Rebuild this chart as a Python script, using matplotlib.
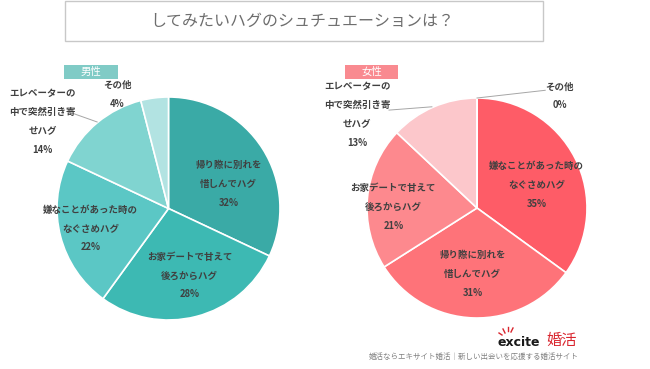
import matplotlib
matplotlib.use("Agg")
import matplotlib.pyplot as plt
from matplotlib.patches import Rectangle

plt.rcParams['font.family'] = ['Noto Sans CJK JP', 'DejaVu Sans']

W, H = 650, 369

title = "してみたいハグのシュチュエーションは？"

male_labels = ["帰り際に別れを\n惜しんでハグ", "お家デートで甘えて\n後ろからハグ",
               "嫌なことがあった時の\nなぐさめハグ", "エレベーターの\n中で突然引き寄\nせハグ", "その他"]
male_values = [32, 28, 22, 14, 4]
male_colors = ["#3aaaa6", "#3db9b3", "#5bc7c5", "#80d4d0", "#b2e3e2"]

female_labels = ["嫌なことがあった時の\nなぐさめハグ", "帰り際に別れを\n惜しんでハグ",
                 "お家デートで甘えて\n後ろからハグ", "エレベーターの\n中で突然引き寄\nせハグ", "その他"]
female_values = [35, 31, 21, 13, 0]
female_colors = ["#fe5c67", "#fe7379", "#fd898e", "#fcc7cb", "#fde0e2"]

male_label_pos = [(0.54, 0.22), (0.19, -0.60), (-0.70, -0.18), (-1.13, 0.78), (-0.46, 1.02)]
female_label_pos = [(0.54, 0.21), (-0.04, -0.60), (-0.76, 0.01), (-1.09, 0.85), (0.75, 1.02)]

fig = plt.figure(figsize=(W / 100, H / 100), dpi=100)
fig.patch.set_facecolor("white")


def px_axes(cx, cy, r):
    ax = fig.add_axes([(cx - r) / W, (H - cy - r) / H, 2 * r / W, 2 * r / H])
    ax.set_xlim(-1, 1)
    ax.set_ylim(-1, 1)
    ax.set_aspect("equal")
    ax.axis("off")
    return ax


def draw_pie(ax, values, colors, labels, pos, leaders):
    ax.pie(values, colors=colors, startangle=90, counterclock=False, radius=1,
           wedgeprops=dict(edgecolor="white", linewidth=1.2))
    ax.set_xlim(-1, 1)
    ax.set_ylim(-1, 1)
    for lab, v, (x, y) in zip(labels, values, pos):
        ax.text(x, y, f"{lab}\n{v}%", ha="center", va="center", fontsize=6.8,
                fontweight="bold", color="#404040", linespacing=2.1, clip_on=False)
    for (x0, y0, x1, y1) in leaders:
        ax.plot([x0, x1], [y0, y1], color="#a6a6a6", lw=0.7, clip_on=False)


axL = px_axes(168.5, 208.5, 111.5)
draw_pie(axL, male_values, male_colors, male_labels, male_label_pos,
         [(-0.865, 0.856, -0.64, 0.776)])

axR = px_axes(477, 208, 110)
draw_pie(axR, female_values, female_colors, female_labels, female_label_pos,
         [(-0.80, 0.89, -0.41, 0.92), (0.0, 1.0, 0.62, 1.07)])

# overlay axes in pixel coords
ov = fig.add_axes([0, 0, 1, 1], zorder=-1)
ov.set_xlim(0, W)
ov.set_ylim(H, 0)
ov.axis("off")

ov.add_patch(Rectangle((65, 1), 478, 40, facecolor="white", edgecolor="#c8c8c8", lw=1.0))
ov.text(302, 21, title, ha="center", va="center", fontsize=11.5, color="#6e6e6e")

ov.add_patch(Rectangle((64, 65), 54, 14, facecolor="#80cbc6", edgecolor="none"))
ov.text(91, 72, "男性", ha="center", va="center", fontsize=7.5, color="white")
ov.add_patch(Rectangle((345, 65), 53, 14, facecolor="#f98a90", edgecolor="none"))
ov.text(371.5, 72, "女性", ha="center", va="center", fontsize=7.5, color="white")

# logo
fig.text(519 / W, 1 - 342 / H, "excite", ha="center", va="center", fontsize=9,
         fontweight="bold", color="#1a1a1a", family=["DejaVu Sans"])
fig.text(562 / W, 1 - 340 / H, "婚活", ha="center", va="center", fontsize=11,
         color="#d9252e")
for (x0, y0, x1, y1) in [(505, 333, 503, 329), (508, 331, 508, 327), (511, 332, 513, 328), (502, 335, 499, 333)]:
    ov.plot([x0, x1], [y0, y1], color="#d9252e", lw=1)
fig.text(474 / W, 1 - 357 / H, "婚活ならエキサイト婚活｜新しい出会いを応援する婚活サイト",
         ha="center", va="center", fontsize=5.4, color="#808080")

fig.savefig("out.png", dpi=100, facecolor="white")
